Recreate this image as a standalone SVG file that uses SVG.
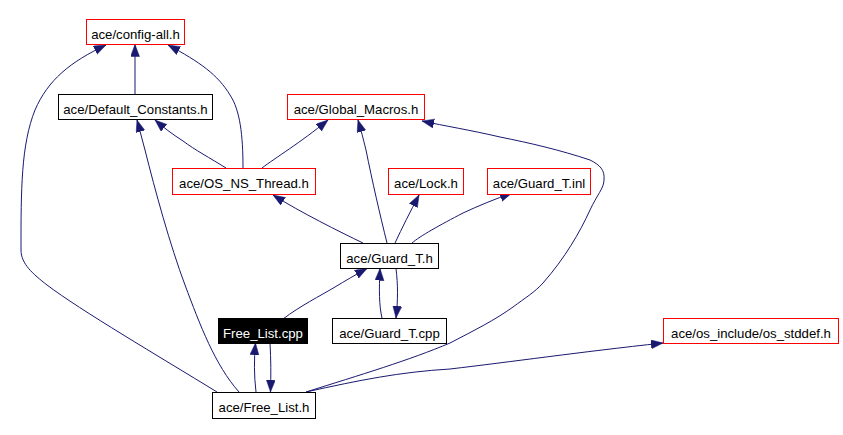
<svg xmlns="http://www.w3.org/2000/svg" width="843" height="435" viewBox="0 0 843 435">
<style>
.n rect{fill:#ffffff;stroke-width:1}
.r rect{stroke:#ff0000}
.b rect{stroke:#000000}
.n text{font-family:"Liberation Sans",Arial,sans-serif;font-size:13.2px;text-anchor:middle;fill:#000000}
.e path{fill:none;stroke:#191970;stroke-width:1;marker-end:url(#ah)}
</style>
<defs>
<marker id="ah" markerUnits="userSpaceOnUse" markerWidth="13" markerHeight="10" refX="12" refY="4.5" orient="auto">
<path d="M0,0 L12,4.5 L0,9 z" fill="#191970" stroke="#191970" stroke-width="0.5"/>
</marker>
</defs>
<rect width="843" height="435" fill="#ffffff"/>
<g id="edges" class="e">
<path d="M135,94 L135,44.5"/>
<path d="M217,392 C160,357 80,310 47,285 C33,274 21,264 21,250 C21,190 21,145 35,110 C48,80 70,62 106,45"/>
<path d="M243,168 C243,135 240,110 230,95 C218,75 200,62 168,45"/>
<path d="M226,168 C210,158 195,150 183,141 C172,134 163,127 155,120"/>
<path d="M262,168 C275,158 300,143 328,120"/>
<path d="M239,392 C215,365 200,325 185,285 C170,245 155,190 145,150 C142,140 140,130 137,120"/>
<path d="M387,243 C380,215 372,180 366,150 C363,138 361,130 358,120"/>
<path d="M363,243 C340,232 300,212 273,195"/>
<path d="M395,243 C402,228 410,212 419,195"/>
<path d="M412,243 C420,236 440,225 463,213 C478,206 495,199 512,193"/>
<path d="M382,318 C379,305 379,290 380,268.5"/>
<path d="M396,268.5 C398,285 398,300 396,318"/>
<path d="M283,319 C300,306 320,296 335,287 C345,281 355,275 367,268.5"/>
<path d="M256,392 C254,375 254,360 255.5,343"/>
<path d="M270,343 C271,360 271,375 270.5,392"/>
<path d="M306,392 C360,375 410,360 450,343 C475,330 495,320 513,307 C525,298 535,292 543,283 C565,258 580,232 590,210 C597,195 604,188 604,180 C605,170 600,165 590,160 C560,150 530,143 500,137 C470,130 445,126 422,121"/>
<path d="M306,392 C360,380 400,372 450,369 C510,362 580,352 663,343"/>
</g>
<g id="n_config_all" class="n r"><rect x="86.5" y="19.5" width="98" height="25"/><text x="135.5" y="38.5">ace/config-all.h</text></g>
<g id="n_default_constants" class="n b"><rect x="58.5" y="94.5" width="154" height="25"/><text x="135.5" y="113.5">ace/Default_Constants.h</text></g>
<g id="n_global_macros" class="n r"><rect x="287.5" y="94.5" width="137" height="25"/><text x="356" y="113.5">ace/Global_Macros.h</text></g>
<g id="n_os_ns_thread" class="n r"><rect x="172.5" y="168.5" width="143" height="26"/><text x="244" y="188">ace/OS_NS_Thread.h</text></g>
<g id="n_lock" class="n r"><rect x="388.5" y="168.5" width="75" height="26"/><text x="426" y="188">ace/Lock.h</text></g>
<g id="n_guard_t_inl" class="n r"><rect x="487.5" y="168.5" width="103" height="26"/><text x="539" y="188">ace/Guard_T.inl</text></g>
<g id="n_guard_t_h" class="n b"><rect x="340.5" y="243.5" width="98" height="25"/><text x="389.5" y="262.5">ace/Guard_T.h</text></g>
<g id="n_guard_t_cpp" class="n b"><rect x="332.5" y="318.5" width="114" height="25"/><text x="389.5" y="337.5">ace/Guard_T.cpp</text></g>
<g id="n_os_stddef" class="n r"><rect x="663.5" y="318.5" width="175" height="25"/><text x="751" y="337.5">ace/os_include/os_stddef.h</text></g>
<g id="n_free_list_cpp" class="n b"><rect x="218.5" y="318.5" width="89" height="25" style="fill:#000000"/><text x="263" y="337.5" style="fill:#ffffff">Free_List.cpp</text></g>
<g id="n_free_list_h" class="n b"><rect x="212.5" y="392.5" width="103" height="26"/><text x="264" y="412">ace/Free_List.h</text></g>
</svg>
